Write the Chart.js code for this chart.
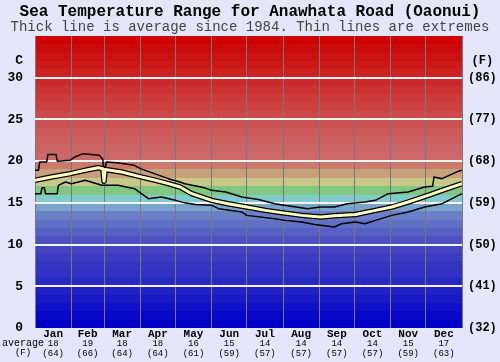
<!DOCTYPE html>
<html>
<head>
<meta charset="utf-8">
<script src="https://cdn.jsdelivr.net/npm/chart.js@4.4.1/dist/chart.umd.min.js"></script>
<style>
  html, body { margin: 0; padding: 0; background: #e6e6fa; }
  #wrap { width: 500px; height: 362px; }
</style>
</head>
<body>
<div id="wrap"><canvas id="chart" width="500" height="362"></canvas></div>
<script>
// month labels and monthly averages shown under the axis
const months = ["Jan", "Feb", "Mar", "Apr", "May", "Jun", "Jul", "Aug", "Sep", "Oct", "Nov", "Dec"];
const monthStart = [0, 31, 59, 90, 120, 151, 181, 212, 243, 273, 304, 334, 365];
const avgC = [18, 19, 18, 18, 16, 15, 14, 14, 14, 14, 15, 17];
const avgF = [64, 66, 64, 64, 61, 59, 57, 57, 57, 57, 59, 63];
const tempTicks = [0, 5, 10, 15, 20, 25, 30];
const unitTick = 32;

// daily extremes and average (day of year, deg C)
const maxDay = [0, 3, 4, 10, 11, 18, 19, 30, 34, 41, 55, 58, 59, 61, 70, 85, 90, 102, 114, 124,
  128, 145, 151, 163, 177, 191, 205, 213, 233, 244, 256, 267, 282, 291, 302, 319, 333, 340, 341, 348, 362, 365];
const maxTemp = [18.9, 18.9, 19.9, 19.9, 20.8, 20.8, 20.0, 20.1, 20.5, 20.9, 20.7, 20.2, 18.3, 19.9, 19.8, 19.5, 19.1, 18.5, 17.9, 17.5,
  17.3, 16.8, 16.5, 16.3, 15.7, 15.4, 14.9, 14.7, 14.3, 14.5, 14.5, 14.9, 15.1, 15.3, 16.1, 16.3, 16.9, 17.0, 18.1, 17.9, 18.8, 18.9];

const minDay = [0, 5, 6, 8, 9, 19, 20, 26, 31, 43, 57, 71, 85, 91, 97, 108, 120, 128, 137, 151,
  157, 177, 181, 205, 214, 228, 239, 256, 262, 274, 282, 291, 305, 319, 333, 348, 362, 365];
const minTemp = [16.1, 16.1, 16.8, 16.8, 16.1, 16.1, 17.1, 17.5, 17.3, 17.7, 17.1, 17.1, 16.7, 16.1, 15.5, 15.7, 15.3, 15.0, 14.8, 14.7,
  14.3, 13.9, 13.5, 13.1, 12.9, 12.7, 12.4, 12.1, 12.5, 12.7, 12.5, 12.9, 13.5, 13.9, 14.5, 14.9, 15.9, 16.1];

const avgDay = [0, 14, 30, 43, 54, 58, 59, 60, 74, 88, 103, 114, 124, 134, 151, 165, 181, 197, 212, 228,
  244, 256, 274, 291, 305, 319, 336, 348, 365];
const avgTemp = [17.7, 18.1, 18.5, 18.9, 19.2, 19.1, 17.6, 19.0, 18.7, 18.2, 17.7, 17.3, 16.9, 16.1, 15.3, 14.9, 14.5, 14.1, 13.8, 13.5,
  13.3, 13.45, 13.6, 14.1, 14.5, 15.1, 15.9, 16.5, 17.3];

// one colour per 1 degree band, from 0 up to 35
const bandColors = [
  '#0000c8', '#0808c8', '#1010c8', '#1818c4', '#2020c4', '#2828c4', '#3030c4', '#3434c0', '#3c3cc0', '#4444c0',
  '#4c50c0', '#5860c4', '#6070c4', '#6c80c8', '#78a4cc', '#80cccc', '#80c880', '#c8c888', '#c8a07a', '#cc7a6a',
  '#cc6868', '#cc6464', '#cc6060', '#cc5a5a', '#cc5252', '#cc4a4a', '#cc4242', '#cc3a3a', '#cc3232', '#cc2a2a',
  '#cc2222', '#cc1a1a', '#cc1212', '#cc0a0a', '#d00000'
];

const monthMid = months.map((m, i) => (monthStart[i] + monthStart[i + 1]) / 2);
const pts = (xs, ys) => xs.map((x, i) => ({ x: x, y: ys[i] }));
const mono = '"Liberation Mono", "Courier New", monospace';
Chart.defaults.font.family = mono;

const bandsPlugin = {
  id: 'bands',
  beforeDraw(chart) {
    const { ctx, chartArea: a } = chart;
    const y = chart.scales.y;
    ctx.save();
    ctx.fillStyle = '#e6e6fa';
    ctx.fillRect(0, 0, chart.width, chart.height);
    bandColors.forEach((c, i) => {
      const top = Math.round(y.getPixelForValue(i + 1));
      const bot = Math.round(y.getPixelForValue(i));
      ctx.fillStyle = c;
      ctx.fillRect(a.left, top, a.right - a.left, bot - top);
    });
    ctx.restore();
  },
  afterDraw(chart) {
    const ctx = chart.ctx;
    ctx.save();
    ctx.fillStyle = '#000';
    ctx.textAlign = 'center';
    ctx.textBaseline = 'middle';
    ctx.font = '10px ' + mono;
    ctx.fillText('average', 23, 343);
    ctx.font = '9px ' + mono;
    ctx.fillText('(F)', 23, 353);
    ctx.restore();
  }
};

const setTicks = vals => s => { s.ticks = vals.map(v => ({ value: v })); };

new Chart(document.getElementById('chart'), {
  type: 'line',
  data: {
    datasets: [
      { data: pts(avgDay, avgTemp), borderColor: '#ffffc0', borderWidth: 3, order: 0 },
      { data: pts(avgDay, avgTemp), borderColor: '#000', borderWidth: 5.5, order: 1 },
      { data: pts(maxDay, maxTemp), borderColor: '#000', borderWidth: 1.5, order: 2 },
      { data: pts(minDay, minTemp), borderColor: '#000', borderWidth: 1.5, order: 2 }
    ]
  },
  options: {
    responsive: false,
    animation: false,
    devicePixelRatio: 1,
    elements: { point: { radius: 0 }, line: { tension: 0, borderJoinStyle: 'round' } },
    plugins: {
      legend: { display: false },
      tooltip: { enabled: false },
      title: {
        display: true,
        text: 'Sea Temperature Range for Anawhata Road (Oaonui)',
        color: '#000',
        font: { size: 16, weight: 'bold', lineHeight: 1 },
        padding: { top: 4, bottom: 0 }
      },
      subtitle: {
        display: true,
        text: 'Thick line is average since 1984. Thin lines are extremes',
        color: '#444',
        font: { size: 14, weight: 'normal', lineHeight: 1 },
        padding: { top: 0, bottom: 2 }
      }
    },
    scales: {
      x: {
        type: 'linear', min: 0, max: 365, position: 'bottom', weight: 0,
        afterBuildTicks: setTicks(monthStart),
        afterFit: s => { s.height = 0; },
        ticks: { display: false },
        grid: { color: '#787878', lineWidth: 1, drawTicks: false },
        border: { display: false }
      },
      m: {
        type: 'linear', min: 0, max: 365, position: 'bottom', weight: 1,
        afterBuildTicks: setTicks(monthMid),
        afterFit: s => { s.height = 11; },
        ticks: {
          padding: 0, autoSkip: false, maxRotation: 0, color: '#000',
          font: { size: 11, weight: 'bold', lineHeight: 1.2 },
          callback: (v, i) => months[i]
        },
        grid: { display: false, drawTicks: false },
        border: { display: false }
      },
      v: {
        type: 'linear', min: 0, max: 365, position: 'bottom', weight: 2,
        afterBuildTicks: setTicks(monthMid),
        afterFit: s => { s.height = 23; },
        ticks: {
          padding: 0, autoSkip: false, maxRotation: 0, color: '#000',
          font: { size: 9, lineHeight: 1.05 },
          callback: (v, i) => [String(avgC[i]), '(' + avgF[i] + ')']
        },
        grid: { display: false, drawTicks: false },
        border: { display: false }
      },
      y: {
        min: 0, max: 35, position: 'left',
        afterBuildTicks: setTicks(tempTicks.concat([unitTick])),
        afterFit: s => { s.width = 35; },
        ticks: {
          padding: 12, color: '#000',
          font: { size: 13, weight: 'bold' },
          callback: v => v === unitTick ? 'C' : String(v)
        },
        grid: {
          drawTicks: false, lineWidth: 2,
          color: c => (c.tick && (c.tick.value === unitTick || c.tick.value === 0)) ? 'rgba(0,0,0,0)' : '#f6f4f6'
        },
        border: { display: false }
      },
      y2: {
        min: 0, max: 35, position: 'right',
        afterBuildTicks: setTicks(tempTicks.concat([unitTick])),
        afterFit: s => { s.width = 38; },
        ticks: {
          crossAlign: 'center', color: '#000',
          font: { size: 12, weight: 'bold' },
          callback: v => v === unitTick ? '(F)' : '(' + Math.round(v * 9 / 5 + 32) + ')'
        },
        grid: { drawOnChartArea: false, color: 'rgba(0,0,0,0)', tickLength: 3 },
        border: { display: false }
      }
    }
  },
  plugins: [bandsPlugin]
});
</script>
</body>
</html>
